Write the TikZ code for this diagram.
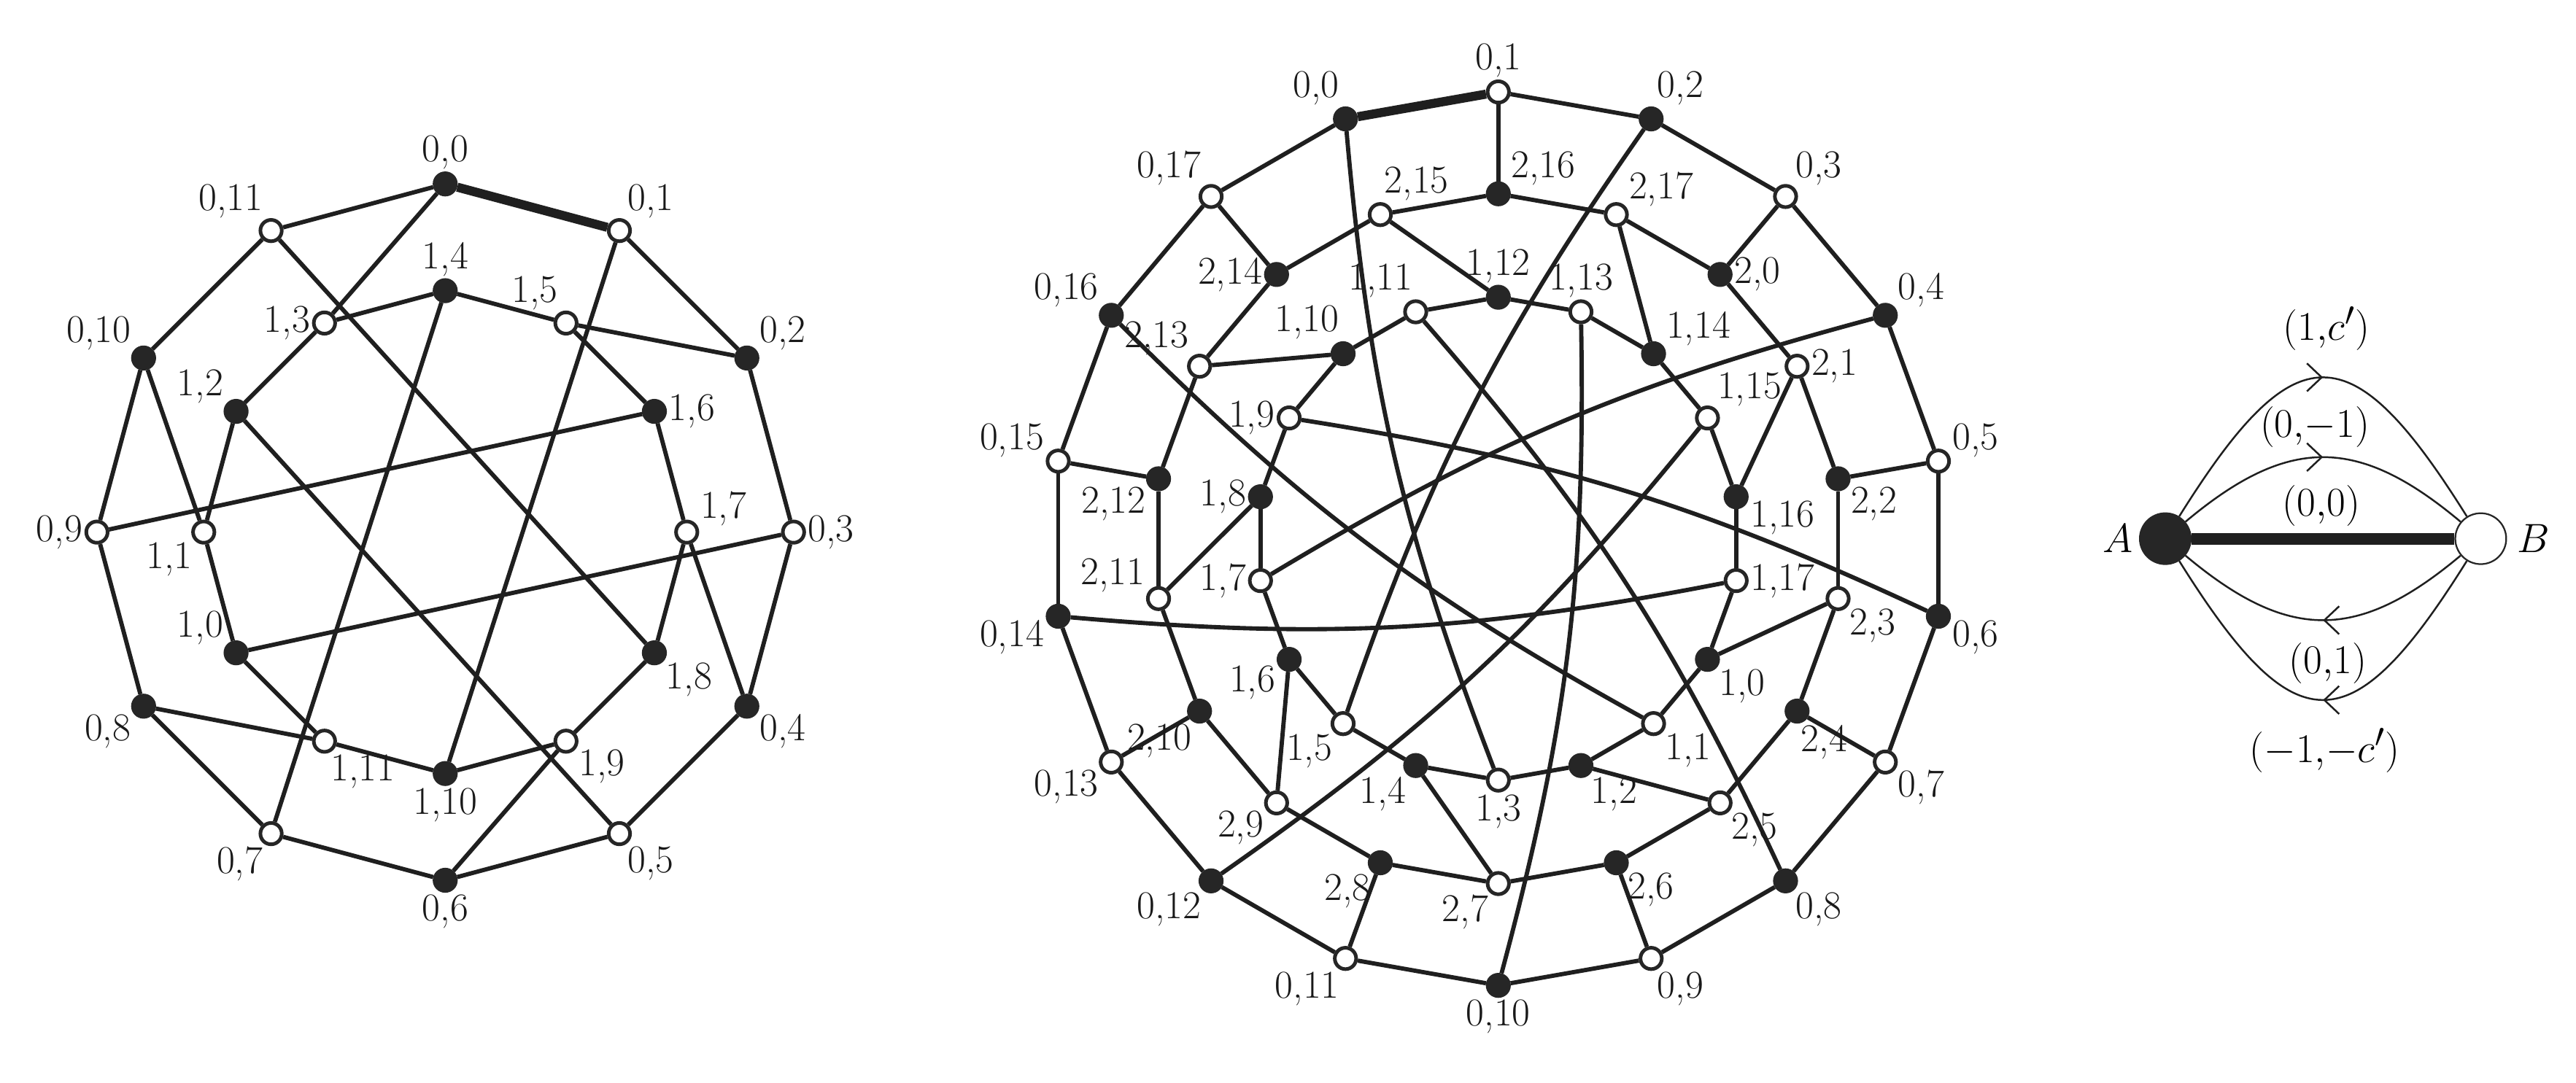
\documentclass[tikz,border=0pt]{standalone}
\usetikzlibrary{backgrounds,arrows.meta,decorations.markings}
\begin{document}
\begin{tikzpicture}[x=1pt,y=1pt,
  vtx/.style={circle,draw=black!85,line width=2.2pt,inner sep=0pt,minimum size=13pt},
  lbl/.style={font=\fontsize{24}{26}\selectfont,inner sep=1pt,text=black!90},
  ed/.style={line width=2.6pt,draw=black!88},
  thk/.style={line width=5.5pt,draw=black!88},
  arc/.style={line width=1.1pt,draw=black!88,postaction={decorate},
    decoration={markings,mark=at position 0.5 with {\arrow{Straight Barb[length=9pt,width=17pt,line width=1.1pt]}}}}]
\useasboundingbox (0,0) rectangle (1568,659);
% ---------- left graph ----------
\foreach \k in {0,...,11}{
  \pgfmathtruncatemacro\c{mod(\k,2)}
  \ifnum\c=0 \def\fc{black!85}\else\def\fc{white}\fi
  \pgfmathsetmacro\a{90-30*\k}
  \node[vtx,fill=\fc,label={[lbl]\a:{0,\k}}] (L0-\k) at ({271+212*cos(\a)},{335+212*sin(\a)}) {};
}
\foreach \k/\la in {0/150,1/220,2/150,3/180,4/90,5/120,6/0,7/20,8/-40,9/-30,10/-90,11/-70}{
  \pgfmathtruncatemacro\c{mod(\k,2)}
  \ifnum\c=0 \def\fc{black!85}\else\def\fc{white}\fi
  \pgfmathsetmacro\a{210-30*\k}
  \node[vtx,fill=\fc,label={[lbl]\la:{1,\k}}] (L1-\k) at ({271+147*cos(\a)},{335+147*sin(\a)}) {};
}
% ---------- middle graph ----------
\foreach \k in {0,...,17}{
  \pgfmathtruncatemacro\c{mod(\k,2)}
  \ifnum\c=0 \def\fc{black!85}\else\def\fc{white}\fi
  \pgfmathsetmacro\a{110-20*\k}
  \node[vtx,fill=\fc,label={[lbl]\a:{0,\k}}] (M0-\k) at ({912+272*cos(\a)},{331+272*sin(\a)}) {};
}
\foreach \k/\la in {0/0,1/0,2/-30,3/-40,4/-80,5/-40,6/-40,7/-130,8/-130,9/-150,10/-120,11/160,12/-150,13/135,14/180,15/80,16/30,17/30}{
  \pgfmathtruncatemacro\c{mod(\k,2)}
  \ifnum\c=0 \def\fc{black!85}\else\def\fc{white}\fi
  \pgfmathsetmacro\a{410-20*\k}
  \node[vtx,fill=\fc,label={[lbl]\la:{2,\k}}] (M2-\k) at ({912+210*cos(\a)},{331+210*sin(\a)}) {};
}
\foreach \k/\la in {0/-40,1/-40,2/-50,3/-90,4/-130,5/-135,6/200,7/180,8/180,9/180,10/100,11/95,12/90,13/90,14/30,15/50,16/-10,17/0}{
  \pgfmathtruncatemacro\c{mod(\k,2)}
  \ifnum\c=0 \def\fc{black!85}\else\def\fc{white}\fi
  \pgfmathsetmacro\a{330-20*\k}
  \node[vtx,fill=\fc,label={[lbl]\la:{1,\k}}] (M1-\k) at ({912+147*cos(\a)},{331+147*sin(\a)}) {};
}
% ---------- right graph ----------
\node[circle,draw=black!85,fill=black!85,line width=1pt,minimum size=31pt,inner sep=0pt] (A) at (1318,331) {};
\node[circle,draw=black!85,fill=white,line width=1pt,minimum size=31pt,inner sep=0pt] (B) at (1510,331) {};
\node[font=\fontsize{27}{29}\selectfont] (Al) at (1289,331) {$A$};
\node[font=\fontsize{27}{29}\selectfont] (Bl) at (1542,331) {$B$};
\node[font=\fontsize{28}{30}\selectfont] (t1) at (1416,459) {$(1{,}c')$};
\node[font=\fontsize{24}{26}\selectfont] (t2) at (1409,399) {$(0{,}{-}1)$};
\node[font=\fontsize{24}{26}\selectfont] (t3) at (1413,351) {$(0{,}0)$};
\node[font=\fontsize{24}{26}\selectfont] (t4) at (1417,255) {$(0{,}1)$};
\node[font=\fontsize{28}{30}\selectfont] (t5) at (1415,202) {$(-1{,}{-}c')$};
\begin{pgfonlayer}{background}
  \foreach \k in {0,...,11}{
    \pgfmathtruncatemacro\n{mod(\k+1,12)}
    \pgfmathtruncatemacro\c{mod(\k,2)}
    \ifnum\c=0 \pgfmathtruncatemacro\s{mod(\k+3,12)}\else\pgfmathtruncatemacro\s{mod(\k+9,12)}\fi
    \ifnum\k>0 \draw[ed] (L0-\k) -- (L0-\n);\fi
    \draw[ed] (L1-\k) -- (L1-\n);
    \draw[ed] (L0-\k) -- (L1-\s);
  }
  \draw[thk] (L0-0) -- (L0-1);
  \foreach \k in {0,...,17}{
    \pgfmathtruncatemacro\n{mod(\k+1,18)}
    \pgfmathtruncatemacro\c{mod(\k,2)}
    \ifnum\k>0 \draw[ed] (M0-\k) -- (M0-\n);\fi
    \draw[ed] (M1-\k) -- (M1-\n);
    \draw[ed] (M2-\k) -- (M2-\n);
    \ifnum\c=0
      \pgfmathtruncatemacro\s{mod(\k+3,18)}
      \draw[ed] (M0-\k) to[bend right=8] (M1-\s);
    \else
      \pgfmathtruncatemacro\s{mod(\k+15,18)}
      \draw[ed] (M0-\k) -- (M2-\s);
      \draw[ed] (M2-\k) -- (M1-\s);
    \fi
  }
  \draw[thk] (M0-0) -- (M0-1);
  \draw[line width=7pt,draw=black!88] (A) -- (B);
  \draw[arc] (A) to[out=58,in=122,looseness=1.95] (B);
  \draw[arc] (A) to[out=40,in=140,looseness=1.25] (B);
  \draw[arc] (B) to[out=-140,in=-40,looseness=1.25] (A);
  \draw[arc] (B) to[out=-122,in=-58,looseness=1.95] (A);
\end{pgfonlayer}
\end{tikzpicture}
\end{document}
